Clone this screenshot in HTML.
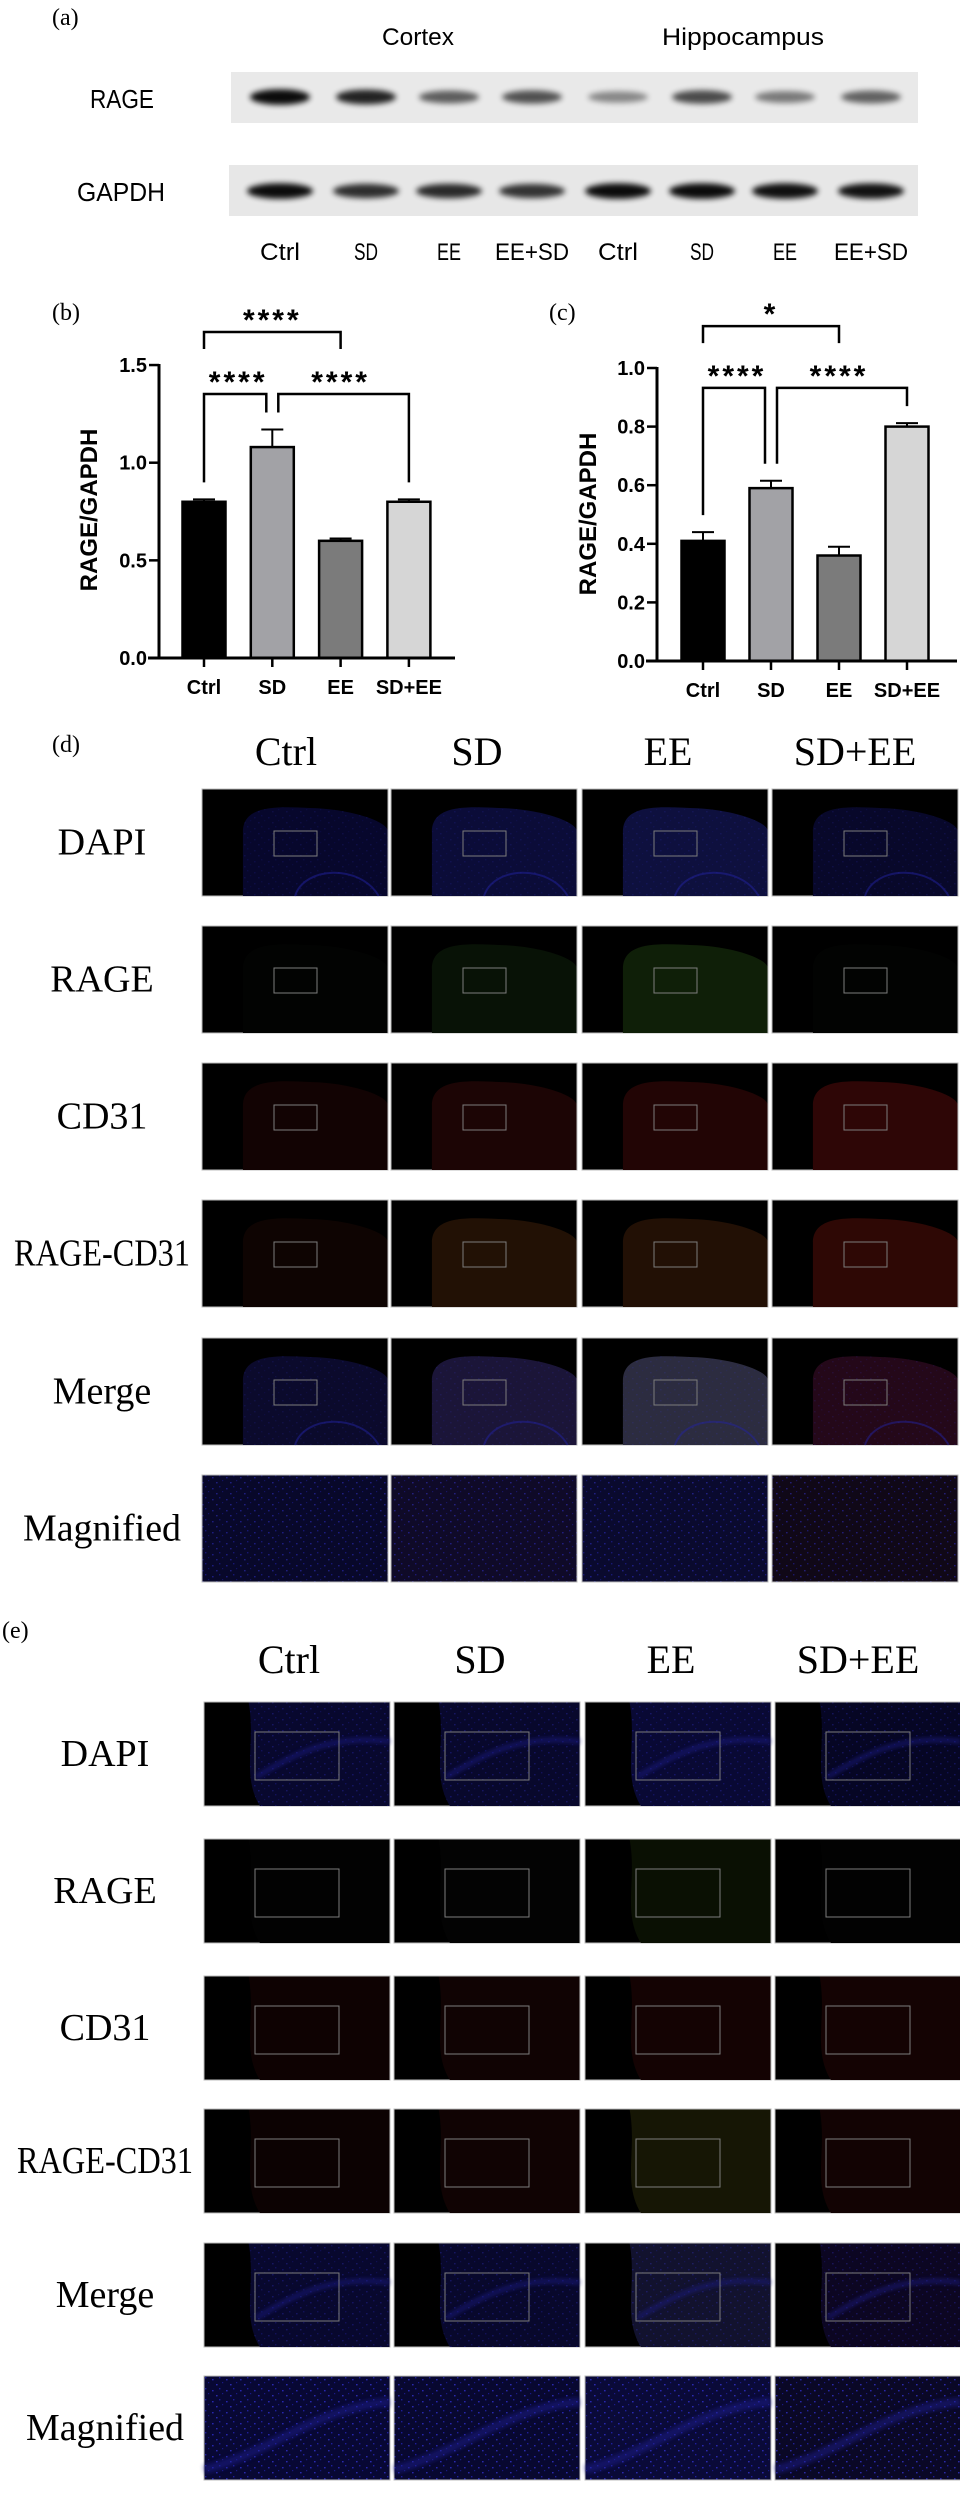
<!DOCTYPE html>
<html><head><meta charset="utf-8"><title>RAGE figure</title>
<style>
html,body{margin:0;padding:0;background:#fff;}
svg{display:block;}
.serif{font-family:"Liberation Serif",serif;}
.sans{font-family:"Liberation Sans",sans-serif;}
</style></head>
<body>
<svg id="fig" width="960" height="2500" viewBox="0 0 960 2500" xmlns="http://www.w3.org/2000/svg">
<defs>
  <filter id="blur3" x="-30%" y="-80%" width="160%" height="260%"><feGaussianBlur stdDeviation="3"/></filter>
  <filter id="blur2" x="-30%" y="-30%" width="160%" height="160%"><feGaussianBlur stdDeviation="2"/></filter>
  <pattern id="speck" width="14" height="11" patternUnits="userSpaceOnUse">
    <rect x="2" y="3" width="1.6" height="1.4" fill="#3a3aff"/>
    <rect x="9" y="1" width="1.4" height="1.4" fill="#2c2ce0"/>
    <rect x="6" y="8" width="1.6" height="1.4" fill="#4040ff"/>
    <rect x="12" y="6" width="1.2" height="1.2" fill="#2424c0"/>
  </pattern>
</defs>

<g>
  <text class="serif" x="52" y="25" font-size="24">(a)</text>
  <text class="sans" x="418" y="45" font-size="24" text-anchor="middle" textLength="72" lengthAdjust="spacingAndGlyphs">Cortex</text>
  <text class="sans" x="743" y="45" font-size="24" text-anchor="middle" textLength="162" lengthAdjust="spacingAndGlyphs">Hippocampus</text>
  <text class="sans" x="122" y="108" font-size="26" text-anchor="middle" textLength="64" lengthAdjust="spacingAndGlyphs">RAGE</text>
  <text class="sans" x="121" y="201" font-size="26" text-anchor="middle" textLength="88" lengthAdjust="spacingAndGlyphs">GAPDH</text>
  <rect x="231" y="72" width="687" height="51" fill="#e9e9e9"/>
  <rect x="229" y="165" width="689" height="51" fill="#e7e7e7"/>
  <g id="bands"></g>
  <g id="laneLabels"></g>
</g>

<g id="chartB"></g>
<g id="chartC"></g>
<g id="fluoD"></g>
<g id="fluoE"></g>
</svg>

<script>
// ---------- DATA ----------
const categories = ["Ctrl", "SD", "EE", "SD+EE"];
const cortexMeans = [0.80, 1.08, 0.60, 0.80];
const cortexErr = [0.012, 0.09, 0.012, 0.012];
const hippoMeans = [0.41, 0.59, 0.36, 0.80];
const hippoErr = [0.03, 0.025, 0.03, 0.012];
const cortexTicks = [0, 0.5, 1.0, 1.5];
const cortexTickLabels = ["0.0", "0.5", "1.0", "1.5"];
const hippoTicks = [0, 0.2, 0.4, 0.6, 0.8, 1.0];
const hippoTickLabels = ["0.0", "0.2", "0.4", "0.6", "0.8", "1.0"];
const cortexSigFrom = [0, 0, 1];
const cortexSigTo = [2, 1, 3];
const cortexSigLevel = [1.669, 1.352, 1.352];
const cortexSigLabel = ["****", "****", "****"];
const cortexSigToBars = [false, true, true];
const hippoSigFrom = [0, 0, 1];
const hippoSigTo = [2, 1, 3];
const hippoSigLevel = [1.143, 0.932, 0.932];
const hippoSigLabel = ["*", "****", "****"];
const hippoSigToBars = [false, true, true];

const blotLanes = ["Ctrl", "SD", "EE", "EE+SD", "Ctrl", "SD", "EE", "EE+SD"];
const rageIntensity = [0.95, 0.85, 0.6, 0.65, 0.42, 0.68, 0.48, 0.58];
const gapdhIntensity = [0.95, 0.8, 0.82, 0.78, 0.95, 0.95, 0.93, 0.92];

const NS = "http://www.w3.org/2000/svg";
function mk(tag, attrs, parent) {
  const e = document.createElementNS(NS, tag);
  for (const k in attrs) e.setAttribute(k, attrs[k]);
  parent.appendChild(e);
  return e;
}

// ---------- BLOT ----------
(function () {
  const bands = document.getElementById("bands");
  const labels = document.getElementById("laneLabels");
  const laneX = [280, 366, 449, 532, 618, 702, 785, 871];
  const labelW = { "Ctrl": 40, "SD": 24, "EE": 24, "EE+SD": 74 };
  blotLanes.forEach((name, i) => {
    const r = mk("ellipse", { cx: laneX[i], cy: 97, rx: 30, ry: 4 + 4 * rageIntensity[i], fill: "#000", opacity: rageIntensity[i], filter: "url(#blur3)" }, bands);
    
    
    const g = mk("ellipse", { cx: laneX[i], cy: 191, rx: 33, ry: 4 + 4 * gapdhIntensity[i], fill: "#000", opacity: gapdhIntensity[i], filter: "url(#blur3)" }, bands);
    
    
    const t = mk("text", { x: laneX[i], y: 260, "font-size": 24, "text-anchor": "middle", class: "sans", textLength: labelW[name], lengthAdjust: "spacingAndGlyphs" }, labels);
    t.textContent = name;
    
    
  });
})();

// ---------- BAR CHARTS ----------
const barFill = ["#000000", "#a2a2a6", "#7b7b7b", "#d6d6d6"];
function drawChart(gid, means, errs, ticks, tickLabels, sFrom, sTo, sLevel, sLabel, sToBars, geo) {
  const g = document.getElementById(gid);
  const yS = v => geo.y0 - v * geo.k;
  const xS = i => geo.c0 + i * geo.step;
  const pl = mk("text", { x: geo.labelX, y: 320, "font-size": 24, class: "serif" }, g);
  pl.textContent = geo.label;
  
  
  means.forEach((v, i) => {
    const b = mk("rect", { x: xS(i) - 21.5, y: yS(v), width: 43, height: geo.y0 - yS(v), fill: barFill[i], stroke: "#000", "stroke-width": 2.5 }, g);
    
    
    const eb = mk("path", { d: `M${xS(i)},${yS(v)} V${yS(v + errs[i])} M${xS(i) - 11},${yS(v + errs[i])} H${xS(i) + 11}`, stroke: "#000", "stroke-width": 2, fill: "none" }, g);
    
    
    const tk = mk("line", { x1: xS(i), x2: xS(i), y1: geo.y0, y2: geo.y0 + 9, stroke: "#000", "stroke-width": 2.5 }, g);
    
    
    const tl = mk("text", { x: xS(i), y: geo.y0 + 36, "font-size": 20, "font-weight": "bold", "text-anchor": "middle", class: "sans" }, g);
    tl.textContent = categories[i];
    
    
  });
  const ya = mk("line", { x1: geo.ax, x2: geo.ax, y1: yS(ticks[ticks.length - 1]) - 1, y2: geo.y0 + 1.5, stroke: "#000", "stroke-width": 3 }, g);
  
  
  const xa = mk("line", { x1: geo.ax - 11, x2: geo.xEnd, y1: geo.y0, y2: geo.y0, stroke: "#000", "stroke-width": 3 }, g);
  
  
  ticks.forEach((t, i) => {
    const l = mk("line", { x1: geo.ax - 10, x2: geo.ax, y1: yS(t), y2: yS(t), stroke: "#000", "stroke-width": 2.5 }, g);
    
    
    const tx = mk("text", { x: geo.ax - 12, y: yS(t) + 7, "font-size": 20, "font-weight": "bold", "text-anchor": "end", class: "sans" }, g);
    tx.textContent = tickLabels[i];
    
    
  });
  const yt = mk("text", { x: 0, y: 0, "font-size": 24, "font-weight": "bold", "text-anchor": "middle", class: "sans", transform: `translate(${geo.titleX},${geo.titleY}) rotate(-90)` }, g);
  yt.textContent = "RAGE/GAPDH";
  
  
  sFrom.forEach((f, j) => {
    const t = sTo[j];
    const by = yS(sLevel[j]);
    let x1 = xS(f), x2 = xS(t);
    let l1 = by + 17, l2 = by + 17;
    if (sToBars[j]) {
      sFrom.forEach((f2, m) => { if (m !== j && sToBars[m] && f2 === t) x2 -= 6; });
      sTo.forEach((t2, m) => { if (m !== j && sToBars[m] && t2 === f) x1 += 6; });
      l1 = yS(means[f] + errs[f]) - 17;
      l2 = yS(means[t] + errs[t]) - 17;
    }
    const p = mk("path", { d: `M${x1},${l1} V${by} H${x2} V${l2}`, stroke: "#000", "stroke-width": 2.5, fill: "none" }, g);
    
    
    const s = mk("text", { x: (xS(f) + xS(t)) / 2, y: by - 2, "font-size": 30, "font-weight": "bold", "text-anchor": "middle", "letter-spacing": 3, class: "sans" }, g);
    s.textContent = sLabel[j];
    
    
  });
}
drawChart("chartB", cortexMeans, cortexErr, cortexTicks, cortexTickLabels, cortexSigFrom, cortexSigTo, cortexSigLevel, cortexSigLabel, cortexSigToBars,
  { y0: 658, k: 195.3, ax: 159, xEnd: 455, c0: 204, step: 68.3, titleX: 97, titleY: 510, label: "(b)", labelX: 52 });
drawChart("chartC", hippoMeans, hippoErr, hippoTicks, hippoTickLabels, hippoSigFrom, hippoSigTo, hippoSigLevel, hippoSigLabel, hippoSigToBars,
  { y0: 661, k: 293, ax: 657, xEnd: 957, c0: 703, step: 68, titleX: 596, titleY: 514, label: "(c)", labelX: 549 });

// ---------- FLUORESCENCE GRIDS ----------
const rowNames = ["DAPI", "RAGE", "CD31", "RAGE-CD31", "Merge", "Magnified"];
const colNames = ["Ctrl", "SD", "EE", "SD+EE"];
const dTint = [
  ["#07072c", "#0b0c38", "#0e103e", "#08082a"],
  ["#020302", "#081206", "#0f1f08", "#020302"],
  ["#120303", "#1c0505", "#220505", "#2e0606"],
  ["#0e0402", "#221105", "#221005", "#2e0805"],
  ["#0b0a2c", "#1b1538", "#2c2c40", "#240819"],
  ["#08082a", "#0f0a28", "#0a0a2e", "#100817"]
];
const eTint = [
  ["#08082e", "#08082c", "#090934", "#060624"],
  ["#020202", "#030303", "#0a1003", "#020202"],
  ["#0e0202", "#100303", "#140303", "#140303"],
  ["#0c0202", "#100303", "#161605", "#120303"],
  ["#08082e", "#08082c", "#12122e", "#0c0622"],
  ["#080834", "#080830", "#0a0a38", "#0a0826"]
];

function drawGrid(gid, label, labelX, labelY, headerY, headerX, colX, rowTop, tileH, rowLabelX, tint, box, kind) {
  const g = document.getElementById(gid);
  const pl = mk("text", { x: labelX, y: labelY, "font-size": 24, class: "serif" }, g);
  pl.textContent = label;
  
  
  colNames.forEach((c, i) => {
    const h = mk("text", { x: headerX[i], y: headerY, "font-size": 40, "text-anchor": "middle", class: "serif" }, g);
    h.textContent = c;
    
    
  });
  rowNames.forEach((r, ri) => {
    const y = rowTop[ri];
    const attrs = { x: rowLabelX, y: y + tileH / 2 + 12, "font-size": 38, "text-anchor": "middle", class: "serif" };
    if (r === "RAGE-CD31") { attrs.textLength = 176; attrs.lengthAdjust = "spacingAndGlyphs"; }
    if (r === "Magnified") { attrs.textLength = 158; attrs.lengthAdjust = "spacingAndGlyphs"; }
    const rl = mk("text", attrs, g);
    rl.textContent = r;
    
    
    colX.forEach((x, ci) => {
      const w = 186, h = tileH;
      const tile = mk("g", {}, g);
      
      
      mk("rect", { x: x, y: y, width: w, height: h, fill: "#000", stroke: "#bdbdbd", "stroke-width": 1 }, tile);
      const col = tint[ri][ci];
      const blue = (r === "DAPI" || r === "Merge" || r === "Magnified");
      if (r === "Magnified") {
        mk("rect", { x: x + 0.5, y: y + 0.5, width: w - 1, height: h - 1, fill: col }, tile);
        mk("rect", { x: x + 0.5, y: y + 0.5, width: w - 1, height: h - 1, fill: "url(#speck)", opacity: kind === "e" ? 0.6 : 0.4 }, tile);
        if (kind === "e") {
          mk("path", { d: `M${x},${y + h * 0.9} C${x + w * 0.35},${y + h * 0.75} ${x + w * 0.6},${y + h * 0.3} ${x + w},${y + h * 0.25}`, stroke: "#1c1c90", "stroke-width": 9, fill: "none", opacity: 0.5, filter: "url(#blur2)" }, tile);
        }
      } else if (kind === "d") {
        const p = `M${x + w * 0.22},${y + h} L${x + w * 0.22},${y + h * 0.4} C${x + w * 0.22},${y + h * 0.12} ${x + w * 0.45},${y + h * 0.17} ${x + w * 0.62},${y + h * 0.18} C${x + w * 0.82},${y + h * 0.2} ${x + w * 0.98},${y + h * 0.3} ${x + w - 0.5},${y + h * 0.38} L${x + w - 0.5},${y + h} Z`;
        mk("path", { d: p, fill: col }, tile);
        if (blue) {
          mk("path", { d: p, fill: "url(#speck)", opacity: 0.12 }, tile);
          mk("path", { d: `M${x + w * 0.5},${y + h} C${x + w * 0.55},${y + h * 0.72} ${x + w * 0.85},${y + h * 0.7} ${x + w * 0.95},${y + h}`, stroke: "#2222a0", "stroke-width": 2, fill: "none", opacity: 0.5 }, tile);
        }
      } else {
        const p = `M${x + w * 0.24},${y + 0.5} L${x + w - 0.5},${y + 0.5} L${x + w - 0.5},${y + h} L${x + w * 0.3},${y + h} C${x + w * 0.2},${y + h * 0.7} ${x + w * 0.28},${y + h * 0.4} ${x + w * 0.24},${y + 0.5} Z`;
        mk("path", { d: p, fill: col }, tile);
        if (blue) {
          mk("path", { d: p, fill: "url(#speck)", opacity: 0.25 }, tile);
          mk("path", { d: `M${x + w * 0.28},${y + h * 0.72} C${x + w * 0.45},${y + h * 0.55} ${x + w * 0.65},${y + h * 0.3} ${x + w},${y + h * 0.38}`, stroke: "#1c1c88", "stroke-width": 5, fill: "none", opacity: 0.55, filter: "url(#blur2)" }, tile);
        }
      }
      if (r !== "Magnified") {
        mk("rect", { x: x + box[0], y: y + box[1], width: box[2], height: box[3], fill: "none", stroke: "#7c7c7c", "stroke-width": 1 }, tile);
      }
    });
  });
}
drawGrid("fluoD", "(d)", 52, 752, 765, [286, 477, 668, 855], [202, 391, 582, 772], [789, 926, 1063, 1200, 1338, 1475], 107, 102, dTint, [72, 42, 43, 25], "d");
drawGrid("fluoE", "(e)", 2, 1638, 1673, [289, 480, 671, 858], [204, 394, 585, 775], [1702, 1839, 1976, 2109, 2243, 2376], 104, 105, eTint, [51, 30, 84, 48], "e");
</script>
</body></html>
